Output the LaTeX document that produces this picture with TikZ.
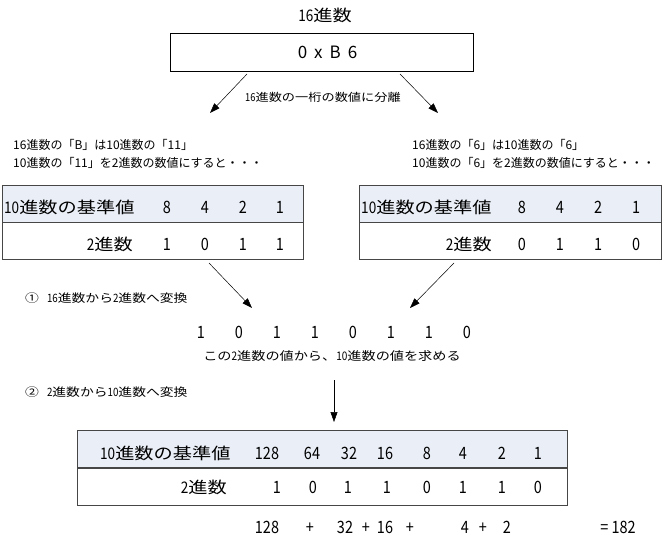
\documentclass[tikz,border=0pt]{standalone}
\usepackage{fontspec}
\newfontfamily\jp{Noto Sans CJK JP}
\newfontfamily\jpw{Noto Sans CJK JP}[FakeStretch=1.2]
\newfontfamily\jpn{Noto Sans CJK JP}[FakeStretch=0.85]
\usetikzlibrary{arrows.meta}
\definecolor{rowfill}{RGB}{234,238,246}
\definecolor{frame}{RGB}{70,70,70}
\newcommand\nd[1]{{\jpn #1}}
\newcommand\hexfont{\jp\fontsize{17}{20}\selectfont\spaceskip 7pt\relax}
\tikzset{
  tbig/.style={font=\jpw\fontsize{16}{19}\selectfont, inner sep=0pt},
  tnum/.style={font=\jpn\fontsize{17}{20}\selectfont, inner sep=0pt},
  ttitle/.style={font=\jpw\fontsize{16}{19}\selectfont, inner sep=0pt},
  thex/.style={font=\hexfont, inner sep=0pt},
  tline/.style={font=\jp\fontsize{12}{14}\selectfont, inner sep=0pt},
  tsmall/.style={font=\jpw\fontsize{11}{13}\selectfont, inner sep=0pt},
  tnote/.style={font=\jpw\fontsize{11.5}{13}\selectfont, inner sep=0pt},
  tmid/.style={font=\jpw\fontsize{11.8}{14}\selectfont, inner sep=0pt},
  hexbox/.style={draw=black, line width=0.8pt, minimum width=303pt, minimum height=38pt, inner sep=0pt},
  toprow/.style={draw=frame, fill=rowfill, line width=0.9pt, inner sep=0pt, minimum height=37pt},
  botrow/.style={draw=frame, fill=white, line width=0.9pt, inner sep=0pt, minimum height=37pt},
  arr/.style={line width=0.5pt, -{Triangle[length=10pt,width=7pt]}}
}
\begin{document}
\begin{tikzpicture}[x=1pt,y=-1pt]
\path[use as bounding box, fill=white] (0,0) rectangle (663,540);

% title and hex box
\node[ttitle] (title) at (325,15) {\nd{16}進数};
\node[hexbox] (hex) at (321.5,52.5) {};
\node[thex] (hext) at (327.5,52.5) {0 x B 6};
\node[tsmall] (split) at (323,97) {\nd{16}進数の一桁の数値に分離};
\coordinate (sL) at (247,74);
\coordinate (eL) at (210,113);
\coordinate (sR) at (400,74);
\coordinate (eR) at (438,113);
\draw[arr] (sL) -- (eL);
\draw[arr] (sR) -- (eR);

% explanation lines
\node[tline, anchor=west] (lt1) at (13,145) {16進数の「B」は10進数の「11」};
\node[tline, anchor=west] (lt2) at (13,163) {10進数の「11」を2進数の数値にすると・・・};
\node[tline, anchor=west] (rt1) at (412,145) {16進数の「6」は10進数の「6」};
\node[tline, anchor=west] (rt2) at (412,163) {10進数の「6」を2進数の数値にすると・・・};

% left table
\node[toprow, minimum width=301pt] (LT) at (152.5,203.5) {};
\node[botrow, minimum width=301pt] (LB) at (152.5,240.5) {};
\node[tbig, anchor=base west] (LTl) at (4,213) {\nd{10}進数の基準値};
\node[tbig, anchor=base east] (LBl) at (133,250) {\nd{2}進数};
\foreach \v/\x [count=\i] in {8/167,4/205,2/243,1/280}
  \node[tnum, anchor=base] (LTd\i) at (\x,213) {\v};
\foreach \v/\x [count=\i] in {1/167,0/205,1/243,1/280}
  \node[tnum, anchor=base] (LBd\i) at (\x,250) {\v};

% right table
\node[toprow, minimum width=302pt] (RT) at (510,203.5) {};
\node[botrow, minimum width=302pt] (RB) at (510,240.5) {};
\node[tbig, anchor=base west] (RTl) at (361,213) {\nd{10}進数の基準値};
\node[tbig, anchor=base east] (RBl) at (492,250) {\nd{2}進数};
\foreach \v/\x [count=\i] in {8/522,4/560,2/598,1/636}
  \node[tnum, anchor=base] (RTd\i) at (\x,213) {\v};
\foreach \v/\x [count=\i] in {0/522,1/560,1/598,0/636}
  \node[tnum, anchor=base] (RBd\i) at (\x,250) {\v};

% arrows to combined binary
\coordinate (mLs) at (209,263);
\coordinate (mLe) at (252,308);
\coordinate (mRs) at (454,263);
\coordinate (mRe) at (410,308);
\draw[arr] (mLs) -- (mLe);
\draw[arr] (mRs) -- (mRe);

\node[tnote, anchor=west] (step1) at (25,298) {①\hspace{8pt}\nd{16}進数から\nd{2}進数へ変換};

\foreach \v/\x [count=\i] in {1/201,0/239,1/277,1/315,0/353,1/391,1/429,0/467}
  \node[tnum, anchor=base] (bin\i) at (\x,338) {\v};

\node[tmid] (seek) at (332,356) {この\nd{2}進数の値から、\nd{10}進数の値を求める};
\node[tnote, anchor=west] (step2) at (25,392) {②\hspace{8pt}\nd{2}進数から\nd{10}進数へ変換};

\coordinate (dS) at (334,380);
\coordinate (dE) at (334,422);
\draw[arr] (dS) -- (dE);

% bottom table
\node[toprow, minimum width=490pt] (BT) at (322,449) {};
\node[botrow, minimum width=490pt] (BB) at (322,486.5) {};
\node[tbig, anchor=base west] (BTl) at (100,459) {\nd{10}進数の基準値};
\node[tbig, anchor=base east] (BBl) at (227,493) {\nd{2}進数};
\foreach \v/\x [count=\i] in {128/267,64/312,32/349,16/385,8/427,4/463,2/502,1/538}
  \node[tnum, anchor=base] (BTd\i) at (\x,459) {\v};
\foreach \v/\x [count=\i] in {1/277,0/313,1/348,1/387,0/427,1/463,1/502,0/538}
  \node[tnum, anchor=base] (BBd\i) at (\x,493) {\v};

% sum row
\foreach \v/\x [count=\i] in {128/267,+/310,32/345,+/366,16/385,+/410,4/465,+/483,2/507}
  \node[tnum, anchor=base] (sum\i) at (\x,533.5) {\v};
\node[tnum, anchor=base] (total) at (618,533.5) {= 182};
\end{tikzpicture}
\end{document}
